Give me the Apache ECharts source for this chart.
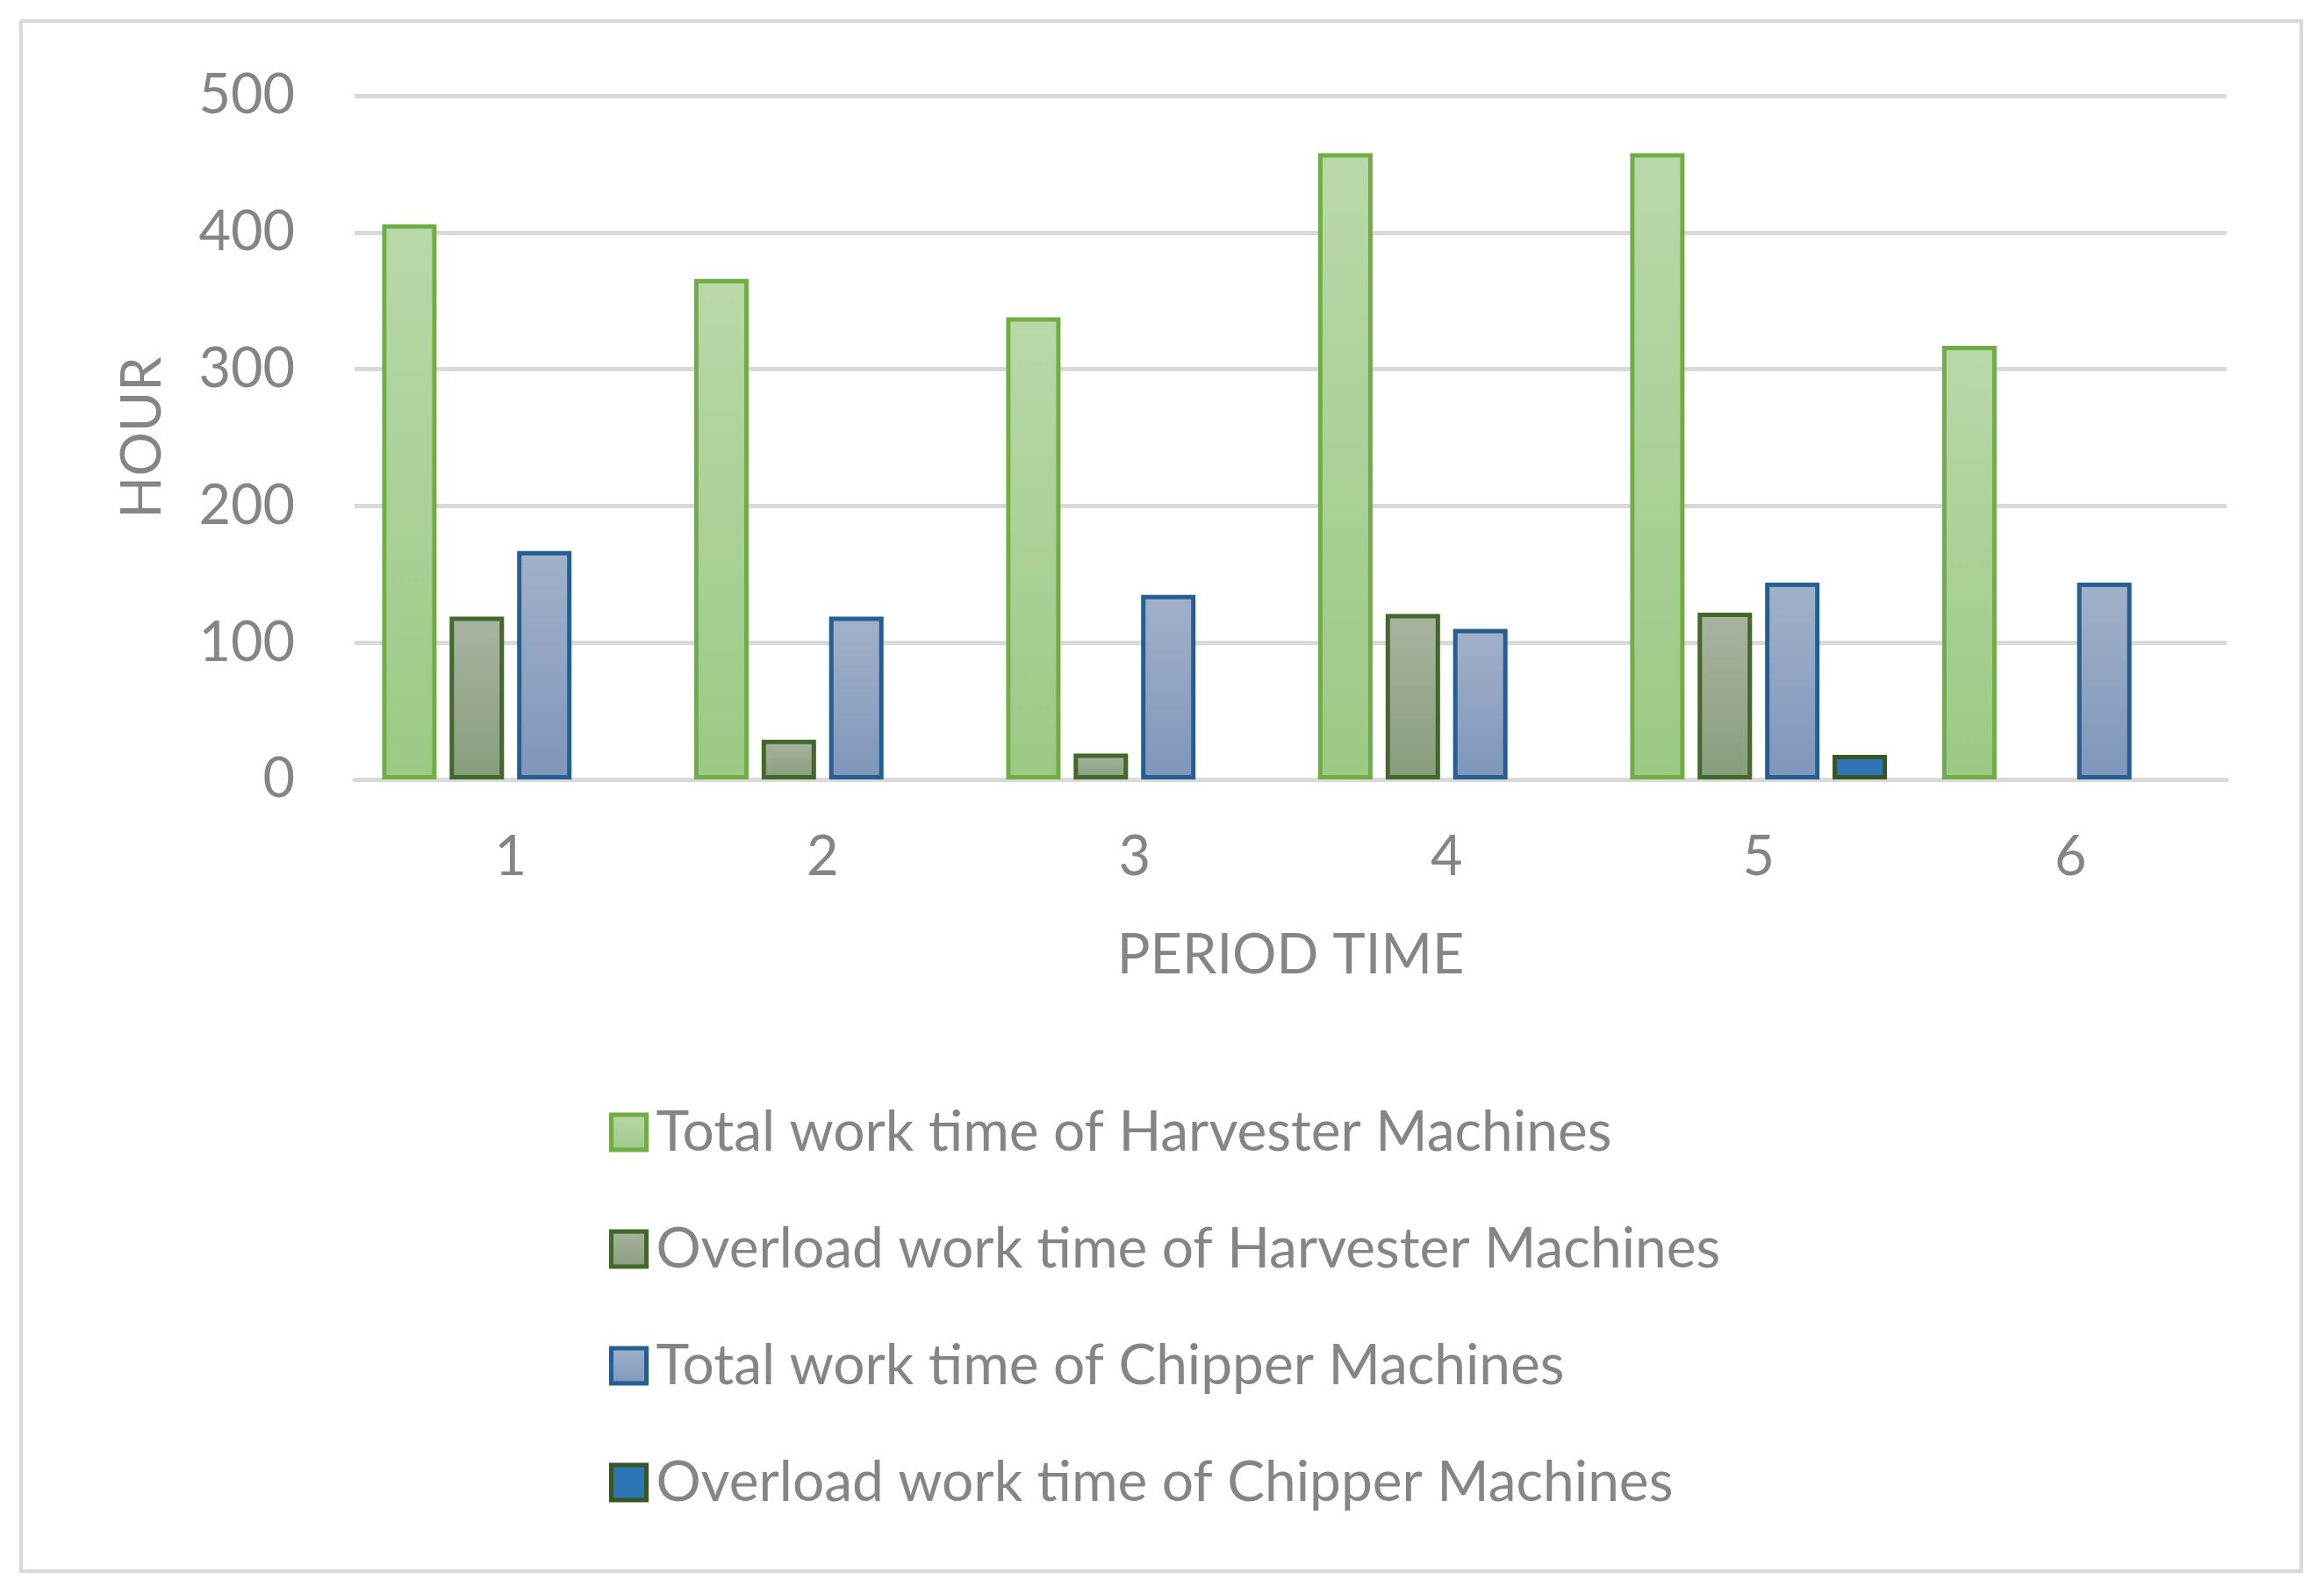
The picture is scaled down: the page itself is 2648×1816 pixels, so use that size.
<!DOCTYPE html>
<html>
<head>
<meta charset="utf-8">
<title>Work time of machines</title>
<script src="https://cdn.jsdelivr.net/npm/echarts@6/dist/echarts.min.js"></script>
<style>
  html, body { margin: 0; padding: 0; background: #fff; }
  #chart { width: 2648px; height: 1816px; }
</style>
</head>
<body>
<div id="chart"></div>
<script>
const periods = ['1', '2', '3', '4', '5', '6']
const harvesterTotal = [406, 366, 338, 458, 458, 317]
const harvesterOverload = [119, 29, 19, 121, 122, 0]
const chipperTotal = [167, 119, 135, 110, 144, 144]
const chipperOverload = [0, 0, 0, 0, 18, 0]

const textColor = '#858585'
const gridColor = '#d9d9d9'
const font = 'Lato, "Liberation Sans", sans-serif'

const vgrad = (top, bottom) => new echarts.graphic.LinearGradient(0, 0, 0, 1, [
  { offset: 0, color: top },
  { offset: 1, color: bottom }
])

// zero bars are not drawn in the original, so leave them empty
const noZero = (arr) => arr.map((v) => (v === 0 ? null : v))

const makeBar = (name, values, fill, border) => ({
  name,
  type: 'bar',
  data: noZero(values),
  barWidth: 62,
  barGap: '24%',
  itemStyle: { color: fill, borderColor: border, borderWidth: 5 }
})

const chart = echarts.init(document.getElementById('chart'))
chart.setOption({
  animation: false,
  backgroundColor: '#fff',
  textStyle: { fontFamily: font },
  graphic: [
    {
      type: 'rect',
      shape: { x: 24, y: 24, width: 2598, height: 1766 },
      style: { fill: 'none', stroke: gridColor, lineWidth: 4 },
      silent: true,
      z: -1
    }
  ],
  grid: {
    left: 404,
    right: 111,
    top: 109,
    bottom: 928,
    outerBoundsMode: 'none'
  },
  legend: {
    orient: 'vertical',
    left: 689,
    top: 1253,
    icon: 'rect',
    itemWidth: 40,
    itemHeight: 40,
    itemGap: 69,
    selectedMode: false,
    itemStyle: { borderWidth: 5 },
    textStyle: {
      fontFamily: font,
      fontSize: 64,
      lineHeight: 60,
      color: textColor,
      padding: [0, 0, 0, 6]
    }
  },
  xAxis: {
    type: 'category',
    data: periods,
    axisLine: { lineStyle: { color: gridColor, width: 5 } },
    axisTick: { show: false },
    axisLabel: { fontSize: 63, color: textColor, margin: 57, fontFamily: font },
    name: 'PERIOD TIME',
    nameLocation: 'middle',
    nameGap: 169,
    nameMoveOverlap: false,
    nameTextStyle: { fontSize: 63, color: textColor, fontFamily: font }
  },
  yAxis: {
    type: 'value',
    min: 0,
    max: 500,
    interval: 100,
    axisLine: { show: false },
    axisTick: { show: false },
    axisLabel: { fontSize: 63, color: textColor, margin: 68, fontFamily: font },
    splitLine: { lineStyle: { color: gridColor, width: 5 } },
    name: 'HOUR',
    nameLocation: 'middle',
    nameGap: 210,
    nameRotate: 90,
    nameMoveOverlap: false,
    nameTextStyle: { fontSize: 63, color: textColor, fontFamily: font }
  },
  series: [
    makeBar('Total work time of Harvester Machines', harvesterTotal, vgrad('#b9d8a9', '#9cc985'), '#70ad47'),
    makeBar('Overload work time of Harvester Machines', harvesterOverload, vgrad('#a9b4a1', '#889d7c'), '#43682b'),
    makeBar('Total work time of Chipper Machines', chipperTotal, vgrad('#a2b1c9', '#7f96ba'), '#255e91'),
    makeBar('Overload work time of Chipper Machines', chipperOverload, '#2e75b6', '#375623')
  ]
})
</script>
</body>
</html>
